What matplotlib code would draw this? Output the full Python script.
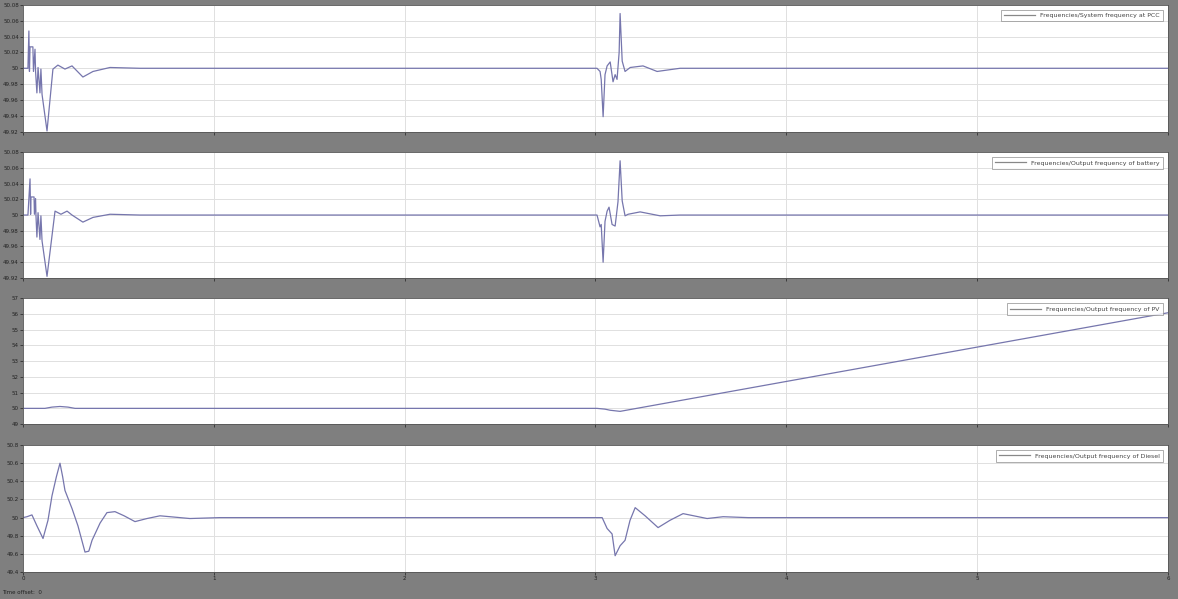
import matplotlib
matplotlib.use("Agg")
import matplotlib.pyplot as plt

# --- scope data: time (s) and frequency (Hz) for each signal ---
t_pcc = [0.0, 0.026, 0.031, 0.034, 0.037, 0.052, 0.055, 0.063, 0.066, 0.073, 0.079,
         0.089, 0.094, 0.100, 0.126, 0.157, 0.183, 0.220, 0.257, 0.314, 0.367, 0.456,
         0.613, 3.008, 3.024, 3.030, 3.040, 3.050, 3.061, 3.077, 3.092, 3.103, 3.113,
         3.124, 3.129, 3.140, 3.155, 3.182, 3.249, 3.323, 3.443, 6.0]
f_pcc = [50.0, 50.0, 50.047, 49.996, 50.027, 50.027, 49.996, 50.024, 49.996, 49.969, 50.001,
         49.969, 49.999, 49.967, 49.921, 49.999, 50.004, 49.999, 50.003, 49.989, 49.996, 50.001,
         50.0, 50.0, 49.996, 49.986, 49.939, 49.992, 50.003, 50.008, 49.983, 49.992, 49.986,
         50.020, 50.069, 50.009, 49.996, 50.001, 50.003, 49.996, 50.0, 50.0]

t_bat = [0.0, 0.026, 0.037, 0.040, 0.042, 0.058, 0.060, 0.066, 0.068, 0.073, 0.079,
         0.089, 0.094, 0.100, 0.126, 0.168, 0.199, 0.231, 0.257, 0.314, 0.367, 0.456,
         0.613, 3.008, 3.024, 3.030, 3.040, 3.050, 3.061, 3.071, 3.087, 3.103, 3.118,
         3.129, 3.140, 3.155, 3.171, 3.234, 3.339, 3.443, 6.0]
f_bat = [50.0, 50.0, 50.046, 50.001, 50.023, 50.023, 50.001, 50.021, 50.0, 49.972, 50.003,
         49.969, 49.999, 49.967, 49.922, 50.005, 50.001, 50.005, 50.0, 49.991, 49.997, 50.001,
         50.0, 50.0, 49.985, 49.988, 49.940, 49.992, 50.005, 50.010, 49.988, 49.986, 50.017,
         50.069, 50.018, 49.999, 50.001, 50.004, 49.999, 50.0, 50.0]

t_pv = [0.0, 0.115, 0.152, 0.194, 0.236, 0.273, 3.008, 3.050, 3.077, 3.129, 6.0]
f_pv = [50.0, 50.0, 50.08, 50.12, 50.08, 50.0, 50.0, 49.95, 49.88, 49.81, 56.08]

t_dsl = [0.0, 0.021, 0.047, 0.073, 0.105, 0.131, 0.152, 0.175, 0.194, 0.208, 0.220,
         0.257, 0.288, 0.325, 0.345, 0.362, 0.404, 0.440, 0.482, 0.530, 0.587, 0.650,
         0.718, 0.875, 1.03, 3.0, 3.035, 3.061, 3.087, 3.103, 3.129, 3.155, 3.181,
         3.208, 3.26, 3.328, 3.39, 3.459, 3.585, 3.669, 3.8, 6.0]
f_dsl = [50.0, 50.01, 50.03, 49.91, 49.77, 49.97, 50.24, 50.45, 50.60, 50.45, 50.30,
         50.10, 49.91, 49.62, 49.63, 49.75, 49.94, 50.055, 50.066, 50.02, 49.956, 49.99,
         50.02, 49.99, 50.0, 50.0, 50.0, 49.88, 49.82, 49.58, 49.69, 49.75, 49.97,
         50.11, 50.02, 49.89, 49.97, 50.044, 49.99, 50.01, 50.0, 50.0]

labels = [
    "Frequencies/System frequency at PCC",
    "Frequencies/Output frequency of battery",
    "Frequencies/Output frequency of PV",
    "Frequencies/Output frequency of Diesel",
]
yticks_pcc = [49.92, 49.94, 49.96, 49.98, 50.0, 50.02, 50.04, 50.06, 50.08]
yticks_bat = [49.92, 49.94, 49.96, 49.98, 50.0, 50.02, 50.04, 50.06, 50.08]
yticks_pv = [49, 50, 51, 52, 53, 54, 55, 56, 57]
yticks_dsl = [49.4, 49.6, 49.8, 50.0, 50.2, 50.4, 50.6, 50.8]
xticks = [0, 1, 2, 3, 4, 5, 6]

BG = "#7f7f7f"
TRACE = "#7676ad"

fig = plt.figure(figsize=(11.78, 5.99), dpi=100, facecolor=BG)

# axes boxes in figure fractions: left, bottom, width, height
boxes = [
    (0.0195, 0.780, 0.972, 0.212),
    (0.0195, 0.536, 0.972, 0.210),
    (0.0195, 0.292, 0.972, 0.210),
    (0.0195, 0.045, 0.972, 0.212),
]
series = [(t_pcc, f_pcc, yticks_pcc), (t_bat, f_bat, yticks_bat),
          (t_pv, f_pv, yticks_pv), (t_dsl, f_dsl, yticks_dsl)]


def fmt(v):
    return f"{v:.2f}".rstrip("0").rstrip(".")


for i, (box, (t, f, yt), lab) in enumerate(zip(boxes, series, labels)):
    ax = fig.add_axes(box)
    ax.set_facecolor("white")
    ax.plot(t, f, color=TRACE, linewidth=0.9, label=lab)
    ax.set_xlim(0, 6)
    ax.set_ylim(yt[0], yt[-1])
    ax.set_yticks(yt)
    ax.set_yticklabels([fmt(v) for v in yt])
    ax.set_xticks(xticks)
    if i == 3:
        ax.set_xticklabels([str(x) for x in xticks])
    else:
        ax.set_xticklabels([])
    ax.grid(True, color="#e0e0e0", linewidth=0.7)
    ax.tick_params(axis="both", labelsize=4, colors="#222222", length=2, width=0.5, pad=1)
    for sp in ax.spines.values():
        sp.set_color("#555555")
        sp.set_linewidth(0.6)
    leg = ax.legend(loc="upper right", fontsize=4.5, frameon=True, fancybox=False,
                    handlelength=5, borderpad=0.5, borderaxespad=0.8)
    leg.get_frame().set_edgecolor("#888888")
    leg.get_frame().set_linewidth(0.6)
    for txt in leg.get_texts():
        txt.set_color("#444444")
    for ln in leg.get_lines():
        ln.set_color("#888888")

fig.text(0.002, 0.008, "Time offset:  0", fontsize=4, color="#222222")

fig.savefig("out.png", dpi=100, facecolor=BG)
